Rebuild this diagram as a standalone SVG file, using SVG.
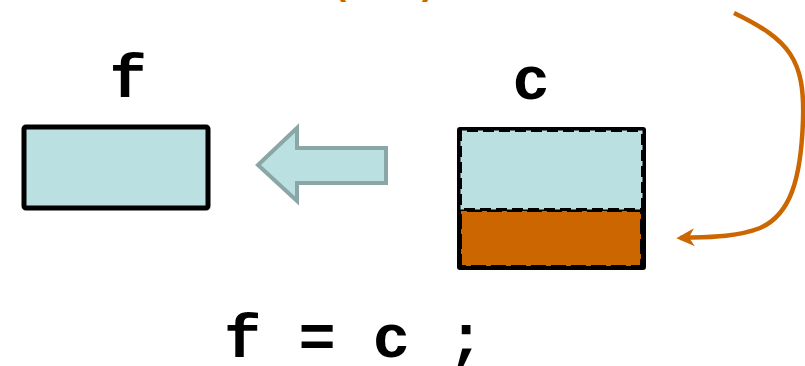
<svg xmlns="http://www.w3.org/2000/svg" width="805" height="366" viewBox="0 0 805 366">
  <defs>
    <style>
      .code { font-family: "Liberation Mono", "Courier New", monospace; font-weight: bold; fill: #000; }
      .box { stroke: #000; stroke-width: 5; stroke-linejoin: round; }
    </style>
    <marker id="ah" viewBox="0 0 10 10" refX="8" refY="5" markerWidth="4" markerHeight="4" orient="auto" markerUnits="strokeWidth">
      <path d="M0,0 L10,5 L0,10 L3,5 Z" fill="#cc6600"/>
    </marker>
  </defs>
  <rect width="805" height="366" fill="#fff"/>
  <text x="330" y="-6" font-family="Liberation Mono, monospace" font-weight="bold" font-size="36" fill="#cc6600">(int)</text>

  <g id="node-f">
    <text class="code" x="128" y="97" font-size="62" text-anchor="middle">f</text>
    <rect class="box" x="24" y="127" width="184" height="81" rx="2" fill="#bae0e2"/>
  </g>

  <g id="node-c">
    <text class="code" x="531" y="99" font-size="62" text-anchor="middle">c</text>
    <rect x="457" y="127" width="189" height="143" rx="3" fill="#000"/>
    <rect x="462" y="132" width="179" height="76" fill="#bae0e2"/>
    <rect x="462" y="132" width="179" height="76" fill="none" stroke="#bae0e2" stroke-width="3" stroke-dasharray="5 11"/>
    <rect x="462" y="212" width="178" height="53" fill="#cc6600"/>
    <rect x="462" y="212" width="178" height="53" fill="none" stroke="#cc6600" stroke-width="2" stroke-dasharray="5 15"/>
  </g>

  <g id="connectors">
    <path d="M258,165 L297,128 L297,148 L386,148 L386,183 L297,183 L297,201 Z" fill="#bae0e2" stroke="#8aa6a6" stroke-width="4" stroke-linejoin="miter"/>
    <path d="M734,13 C790,40 805,60 803,120 C801,180 790,215 760,228 C735,238 700,237 680,238" fill="none" stroke="#cc6600" stroke-width="4.5" marker-end="url(#ah)"/>
  </g>

  <g id="statement">
    <text class="code" x="224" y="357" font-size="62" xml:space="preserve">f = c ;</text>
  </g>
</svg>
